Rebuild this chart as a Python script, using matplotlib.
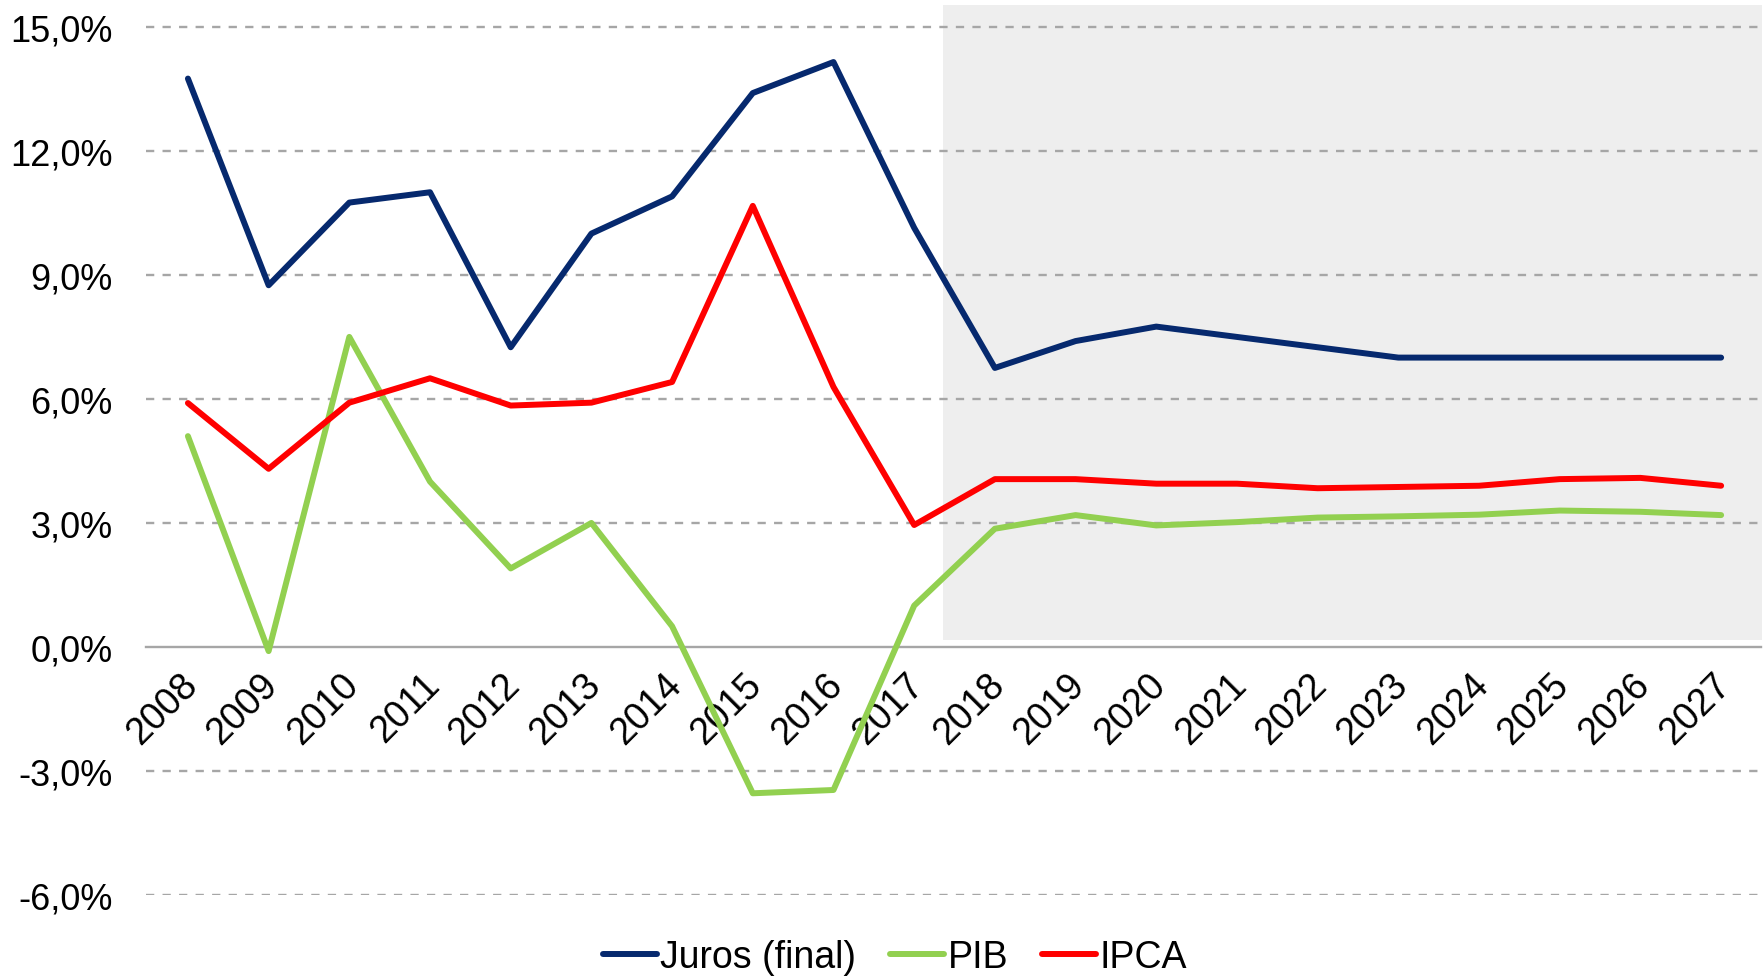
import matplotlib
matplotlib.use("Agg")
import matplotlib.pyplot as plt
import matplotlib.transforms as mtransforms
from matplotlib.ticker import FuncFormatter

years = [str(y) for y in range(2008, 2028)]
juros = [13.75, 8.75, 10.75, 11.0, 7.25, 10.0, 10.9, 13.4, 14.15, 10.14,
         6.75, 7.4, 7.75, 7.5, 7.25, 7.0, 7.0, 7.0, 7.0, 7.0]
pib = [5.1, -0.1, 7.5, 4.0, 1.9, 3.0, 0.5, -3.54, -3.46, 1.0,
       2.86, 3.19, 2.94, 3.02, 3.13, 3.16, 3.2, 3.3, 3.27, 3.19]
ipca = [5.9, 4.31, 5.91, 6.5, 5.84, 5.91, 6.41, 10.67, 6.29, 2.95,
        4.06, 4.06, 3.95, 3.95, 3.84, 3.87, 3.9, 4.06, 4.09, 3.9]
yticks = [-6, -3, 0, 3, 6, 9, 12, 15]
forecast_start = 9.36  # shaded zone begins between 2017 and 2018

plt.rcParams['font.family'] = ['Liberation Sans', 'DejaVu Sans']

fig = plt.figure(figsize=(17.65, 9.79), dpi=100)
ax = fig.add_axes([0.0827, 0.0848, 0.9153, 0.9095])

x = list(range(len(years)))
ax.set_xlim(-0.52, 19.5)
ax.set_ylim(-6, 15.54)

ax.fill_between([forecast_start, 19.6], 0.16, 15.54, color='#eeeeee', zorder=0, lw=0)

for t in yticks:
    if t == 0:
        continue
    ax.axhline(t, color='#a6a6a6', lw=1.7, ls=(0, (3.5, 3.5)), zorder=1)

LW = 4.3
ax.plot(x, juros, color='#06296e', lw=LW, label='Juros (final)', zorder=3, solid_capstyle='round')
ax.plot(x, pib, color='#92d050', lw=LW, label='PIB', zorder=3, solid_capstyle='round')
ax.plot(x, ipca, color='#ff0000', lw=LW, label='IPCA', zorder=3, solid_capstyle='round')

for s in ['top', 'right', 'left']:
    ax.spines[s].set_visible(False)
ax.spines['bottom'].set_position(('data', 0))
ax.spines['bottom'].set_color('#a6a6a6')
ax.spines['bottom'].set_linewidth(1.7)
ax.spines['bottom'].set_zorder(2)

ax.set_yticks(yticks)
ax.yaxis.set_major_formatter(FuncFormatter(lambda v, p: f"{v:.1f}%".replace('.', ',')))
ax.tick_params(axis='y', length=0, pad=24, labelsize=26)
ax.set_xticks(x)
ax.set_xticklabels(years, rotation=45, ha='right', va='top', rotation_mode='anchor')
ax.tick_params(axis='x', length=0, pad=14, labelsize=27)
offset = mtransforms.ScaledTranslation(-9 / 100, 0, fig.dpi_scale_trans)
for lab in ax.get_xticklabels():
    lab.set_transform(lab.get_transform() + offset)

fig.legend(loc='center', bbox_to_anchor=(0.507, 0.021), ncol=3, frameon=False,
           fontsize=27, handlelength=1.45, handletextpad=0.08, columnspacing=0.9)

fig.savefig('out.png', dpi=100)
